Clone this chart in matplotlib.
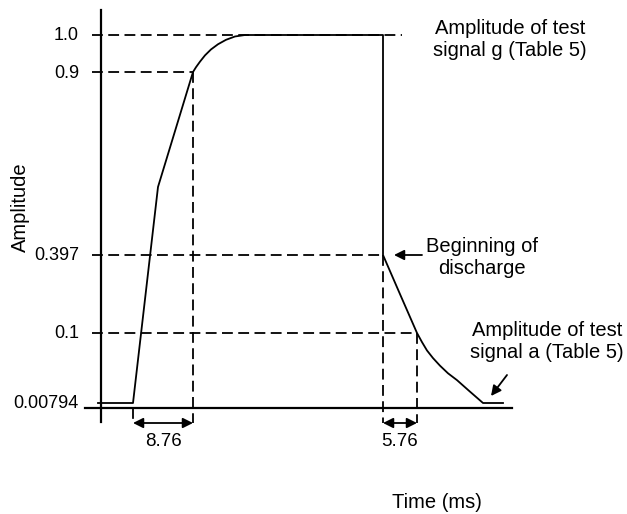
import numpy as np
import matplotlib.pyplot as plt

plt.rcParams['font.family'] = ['Liberation Sans', 'DejaVu Sans']

# amplitude levels marked on the y axis
levels = [0.00794, 0.1, 0.397, 0.9, 1.0]
level_labels = ["0.00794", "0.1", "0.397", "0.9", "1.0"]

# signal envelope (schematic time units, amplitude)
t_sig = [-3, 32, 57, 92, 95, 99, 104, 110, 117, 125, 134, 144,
         282, 282, 299, 316, 321, 326, 332, 339, 347, 356, 368, 382, 402]
a_sig = [0.00794, 0.00794, 0.584, 0.9, 0.913, 0.928, 0.945, 0.961, 0.975, 0.987, 0.996, 1.0,
         1.0, 0.397, 0.248, 0.1, 0.088, 0.077, 0.067, 0.057, 0.047, 0.038, 0.024, 0.00794, 0.00794]

# marked intervals: rise to 0.9 and discharge to 0.1
rise = (32, 92, "8.76")
fall = (282, 316, "5.76")

# schematic (not to scale) placement of the levels on the page
level_y = [403, 333, 255, 72, 35]


def ypos(a):
    return np.interp(a, levels, level_y)


fig = plt.figure(figsize=(6.27, 5.14), dpi=100)
ax = fig.add_axes([0, 0, 1, 1])
ax.set_xlim(-101, 526)
ax.set_ylim(514, 0)
ax.axis("off")

dash = (0, (6, 3))
k = "black"
lw = 1.3

#axes lines
ax.plot([0, 0], [10, 422], color=k, lw=1.6)
ax.plot([-16, 411], [408, 408], color=k, lw=1.6)

#horizontal guide lines
h_end = {1.0: 301, 0.9: rise[1], 0.397: fall[0], 0.1: fall[1]}
for lev, end in h_end.items():
    ax.plot([-9, end], [ypos(lev)] * 2, color=k, lw=lw, ls=dash)

#vertical guide lines
ax.plot([rise[0]] * 2, [408, 423], color=k, lw=lw, ls=dash)
ax.plot([rise[1]] * 2, [ypos(0.9), 423], color=k, lw=lw, ls=dash)
ax.plot([fall[0]] * 2, [ypos(0.397), 423], color=k, lw=lw, ls=dash)
ax.plot([fall[1]] * 2, [ypos(0.1), 423], color=k, lw=lw, ls=dash)

#the signal
ax.plot(t_sig, ypos(a_sig), color=k, lw=lw)

#tick labels
for lev, lab in zip(levels, level_labels):
    ax.text(-22, ypos(lev) + 1, lab, ha="right", va="center", fontsize=13)

#interval arrows
for a, b, lab in (rise, fall):
    ax.annotate("", xy=(a, 423), xytext=(b, 423),
                arrowprops=dict(arrowstyle="<|-|>", color=k, lw=lw,
                                mutation_scale=15, shrinkA=0, shrinkB=0))
    ax.text((a + b) / 2, 441, lab, ha="center", va="center", fontsize=13.5)

#annotations
ax.text(409, 40, "Amplitude of test\nsignal g (Table 5)", ha="center", va="center",
        multialignment="center", fontsize=14.5)
ax.text(381, 257, "Beginning of\ndischarge", ha="center", va="center",
        multialignment="center", fontsize=14.5)
ax.annotate("", xy=(293, 255), xytext=(321, 255),
            arrowprops=dict(arrowstyle="-|>", color=k, lw=lw,
                            mutation_scale=15, shrinkA=0, shrinkB=0))
ax.text(446, 342, "Amplitude of test\nsignal a (Table 5)", ha="center", va="center",
        multialignment="center", fontsize=14.5)
ax.annotate("", xy=(390, 396), xytext=(406, 375),
            arrowprops=dict(arrowstyle="-|>", color=k, lw=lw,
                            mutation_scale=15, shrinkA=0, shrinkB=0))

#axis titles
ax.text(-81, 207, "Amplitude", rotation=90, ha="center", va="center", fontsize=14.5)
ax.text(336, 502, "Time (ms)", ha="center", va="center", fontsize=14.5)

fig.savefig("out.png", dpi=100)
